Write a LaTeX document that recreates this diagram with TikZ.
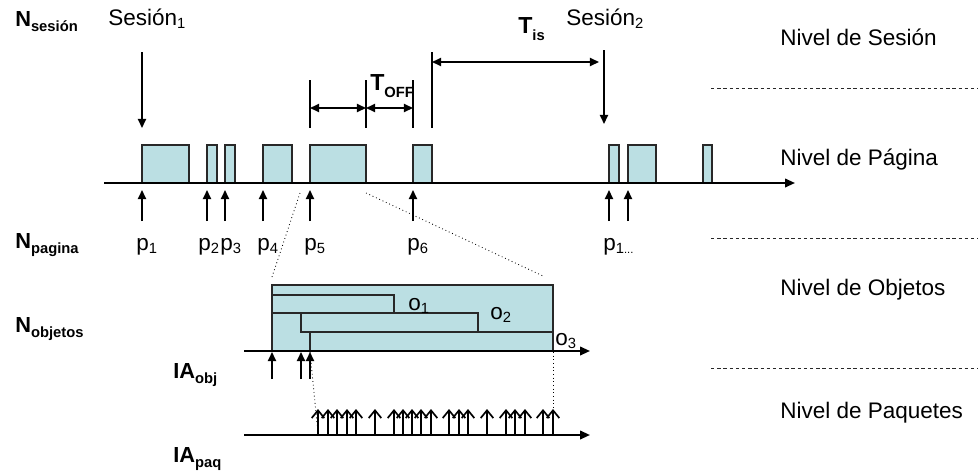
\documentclass[tikz,border=0pt]{standalone}
\usepackage{fontspec}
\setmainfont{Liberation Sans}
\usepackage{xcolor}
\usetikzlibrary{arrows.meta}
\definecolor{pagefill}{RGB}{187,223,227}
\definecolor{edgegray}{RGB}{40,40,40}
\newcommand{\lowidx}[2][2.2pt]{\raisebox{-#1}{\fontsize{10.5}{12}\selectfont #2}}
\tikzset{
  lbl/.style={anchor=base west,inner sep=0pt,font=\fontsize{16}{19}\selectfont},
  varlbl/.style={anchor=base west,inner sep=0pt,font=\fontsize{15.5}{18}\selectfont\bfseries},
  pagebox/.style={draw=edgegray,fill=pagefill,line width=0.8pt},
  timeaxis/.style={line width=1.4pt,-{Triangle[length=7pt,width=6pt]}},
  evarrow/.style={line width=1.3pt,-{Triangle[length=6.5pt,width=5.8pt]}},
  dblarrow/.style={line width=1.3pt,{Triangle[length=6.5pt,width=5.8pt]}-{Triangle[length=6.5pt,width=5.8pt]}},
  pktarrow/.style={line width=1.2pt,-{Straight Barb[length=5.5pt,width=9pt]}},
  guide/.style={dotted,line width=0.6pt},
  levelsep/.style={dash pattern=on 2.4pt off 2pt,line width=0.7pt,draw=edgegray},
}
\begin{document}
\begin{tikzpicture}[x=0.025cm,y=-0.025cm]
\useasboundingbox (0,0) rectangle (978,474);
% level separators
\foreach \y in {88,238,368}{\draw[levelsep] (711,\y)--(978,\y);}
\node[lbl] (nivses) at (780,45){Nivel de Sesión};
\node[lbl] (nivpag) at (780,165){Nivel de Página};
\node[lbl] (nivobj) at (780,295){Nivel de Objetos};
\node[lbl] (nivpaq) at (780,418){Nivel de Paquetes};
% variable names
\node[varlbl] (nses) at (15,26){N\lowidx[4pt]{sesión}};
\node[varlbl] (npag) at (15,248){N\lowidx[4pt]{pagina}};
\node[varlbl] (nobj) at (15,332){N\lowidx[4pt]{objetos}};
\node[varlbl] (iaobj) at (173,378){IA\lowidx[4pt]{obj}};
\node[varlbl] (iapaq) at (173,462){IA\lowidx[4pt]{paq}};
% session level
\node[lbl] (ses1) at (108,25){Sesión\lowidx{1}};
\node[lbl] (ses2) at (566,25){Sesión\lowidx{2}};
\draw[evarrow] (142,52)--(142,128);
\draw[evarrow] (604,50)--(604,124);
\foreach \x in {310,366,413}{\draw[line width=1pt] (\x,80)--(\x,128);}
\draw[line width=1pt] (432,52)--(432,128);
\draw[dblarrow] (310,108)--(366,108);
\draw[dblarrow] (366,108)--(413,108);
\draw[dblarrow] (432,62)--(599,62);
\node[lbl,font=\fontsize{16.5}{19}\selectfont\bfseries] (toff) at (370,90){T\lowidx[5pt]{OFF}};
\node[lbl,font=\fontsize{16.5}{19}\selectfont\bfseries] (tis) at (518,33){T\lowidx[5pt]{is}};
% page level
\foreach \a/\b in {142/189,207/217,225/235,263/292,310/366,413/432,609/619,628/656,703/712}
  {\draw[pagebox] (\a,145) rectangle (\b,183);}
\draw[timeaxis] (104,183)--(795,183);
\foreach \x in {142,207,225,263,310,413,609,628}{\draw[evarrow] (\x,221)--(\x,190);}
\foreach \x/\t in {136/1,198/2,220/3,257/4,304/5,407/6}
  {\node[lbl] (p\t) at (\x,250){p\lowidx{\t}};}
\node[lbl] (pn) at (603,250){p\lowidx{1\fontsize{8}{9}\selectfont...}};
% zoom onto objects
\draw[guide] (300,193)--(272,277);
\draw[guide] (366,193)--(543,276);
% object level
\draw[pagebox] (272,285) rectangle (553,351);
\draw[pagebox] (272,295) rectangle (394,313);
\draw[pagebox] (301,313) rectangle (478,332);
\draw[pagebox] (310,332) rectangle (553,351);
\node[lbl] (o1) at (408,310){o\lowidx{1}};
\node[lbl] (o2) at (490,319){o\lowidx{2}};
\node[lbl] (o3) at (555,345){o\lowidx{3}};
\draw[timeaxis] (244,351)--(590,351);
\foreach \x in {272,301,310}{\draw[evarrow] (\x,379)--(\x,352);}
% packet level
\draw[guide] (310,352)--(318,433);
\draw[guide] (553,352)--(553,410);
\draw[timeaxis] (244,435)--(590,435);
\foreach \x in {318,328,337,347,356,375,394,403,412,421,431,449,459,468,487,506,515,525,543,553}
  {\draw[pktarrow] (\x,435)--(\x,409);}
\end{tikzpicture}
\end{document}
